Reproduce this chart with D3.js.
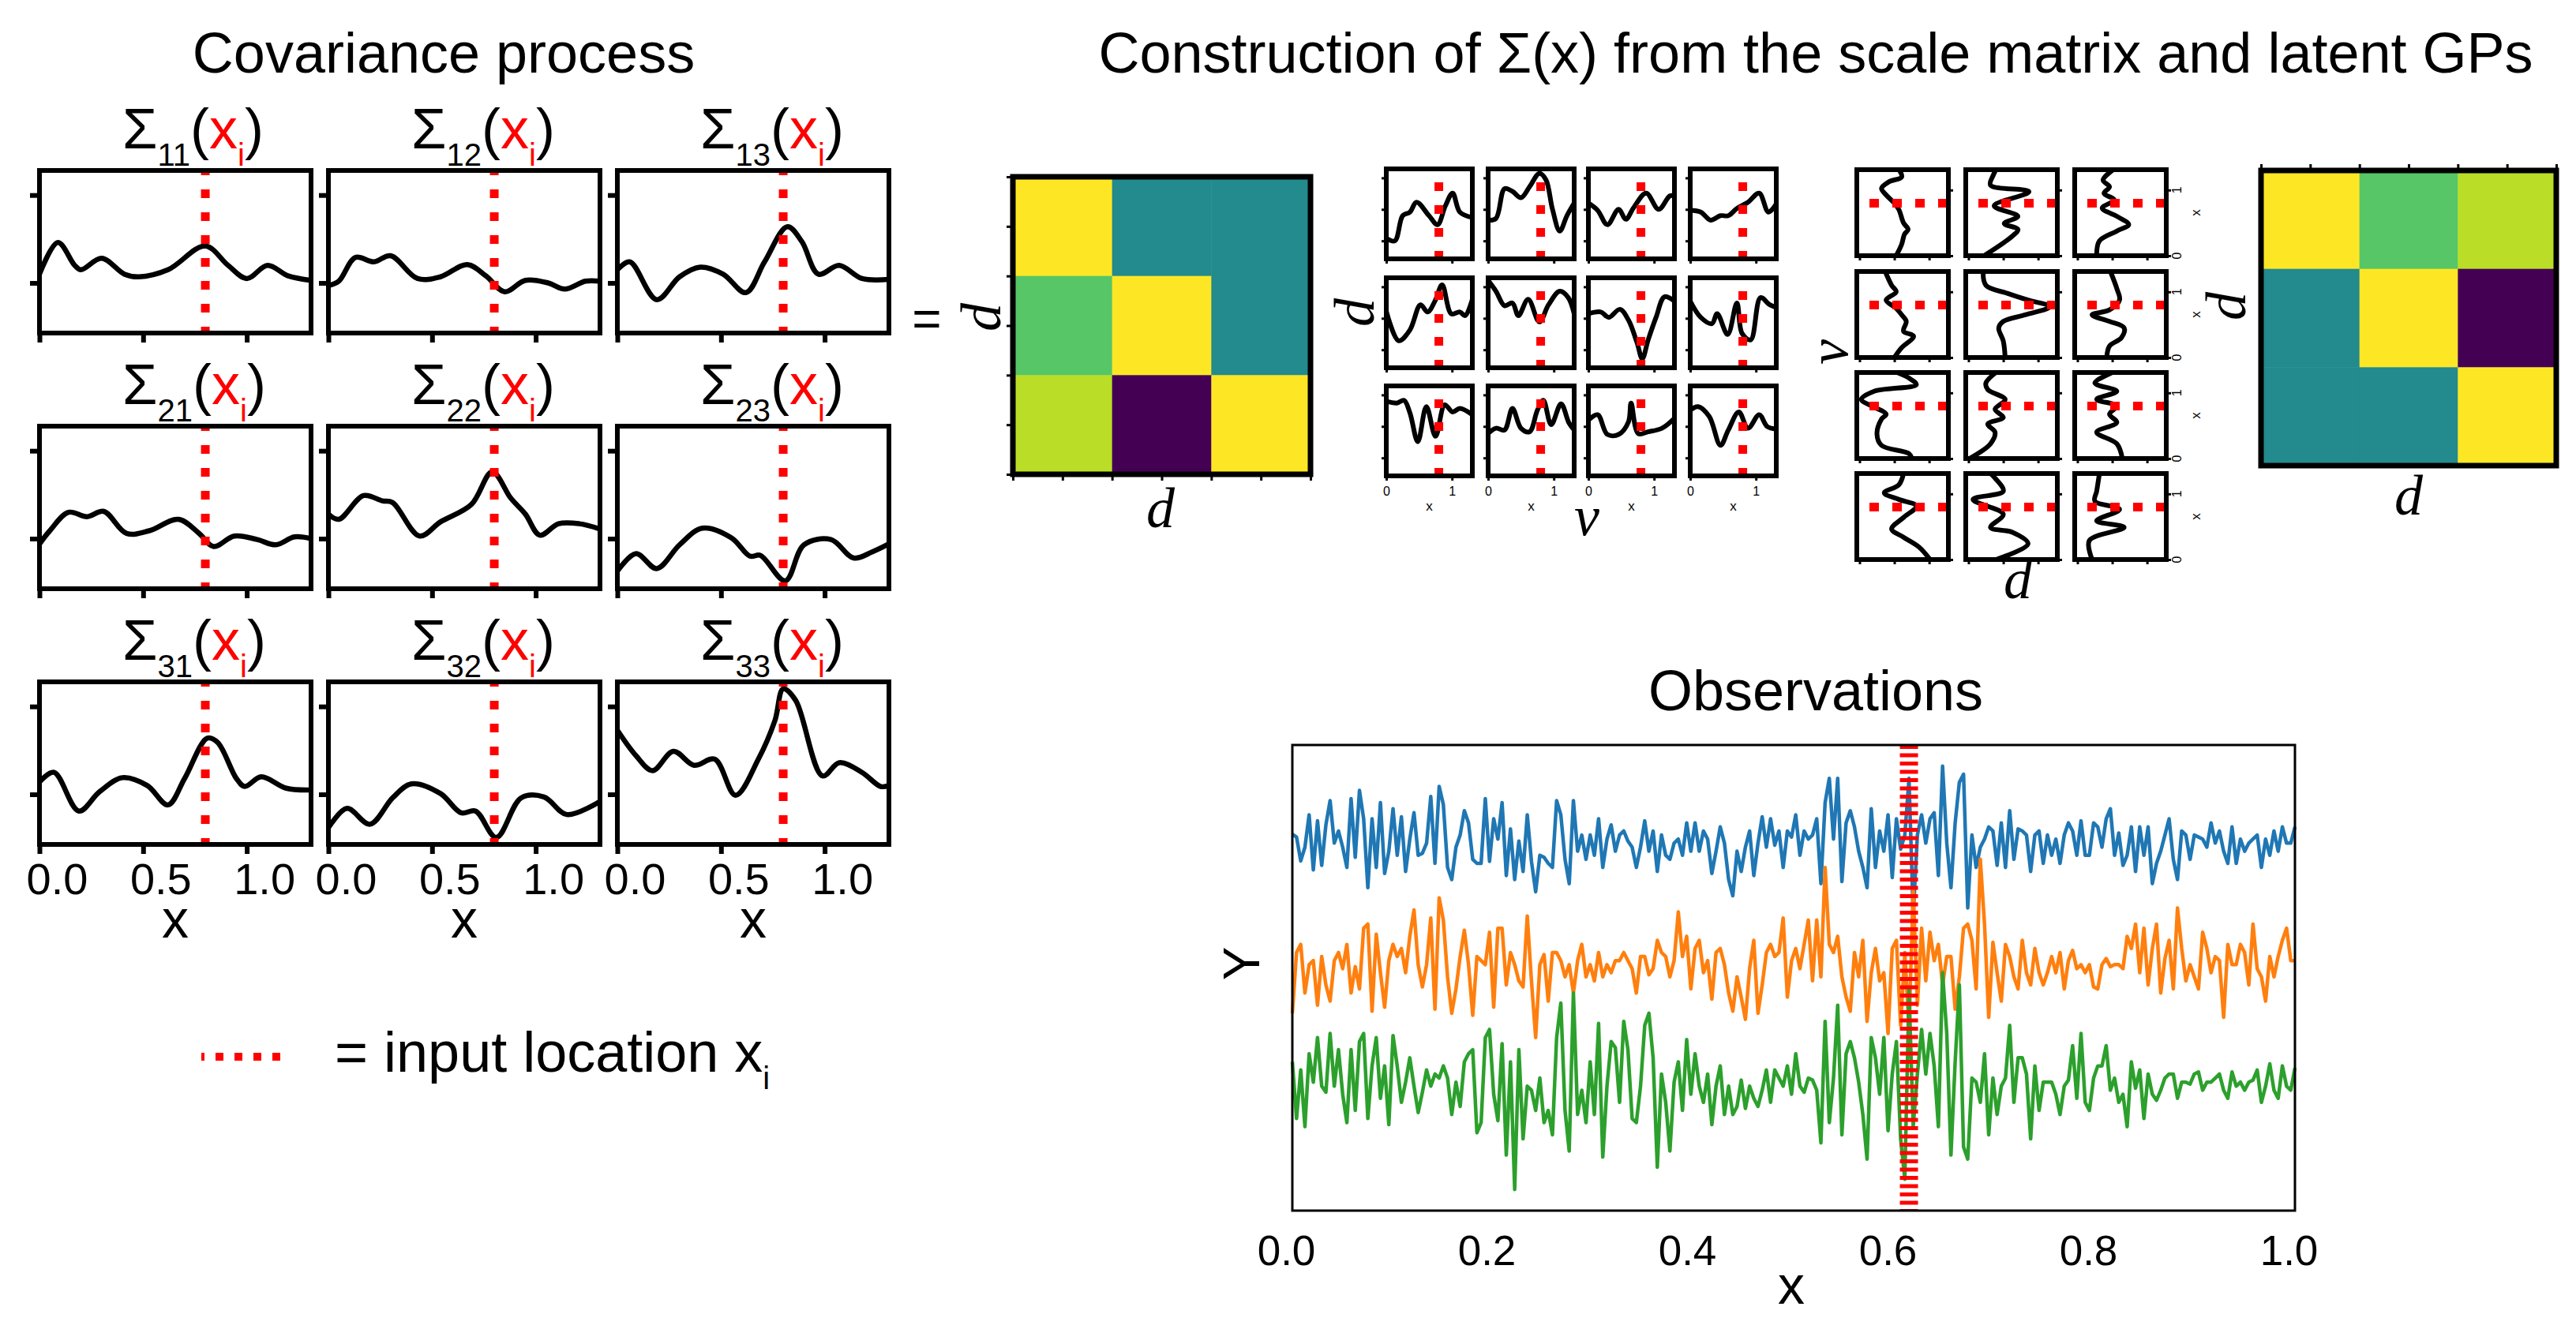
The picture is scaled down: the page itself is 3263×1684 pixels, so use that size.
<!DOCTYPE html>
<html>
<head>
<meta charset="utf-8">
<script src="https://cdn.jsdelivr.net/npm/d3@7"></script>
<style>
html,body{margin:0;padding:0;background:#fff;}
svg{display:block;}
</style>
</head>
<body>
<svg id="fig" width="3263" height="1684" xmlns="http://www.w3.org/2000/svg"></svg>
<script>
// ================= DATA =================
const sigmaIndices = [["11","12","13"],["21","22","23"],["31","32","33"]];
const sigmaXTicks = [0, 0.5, 1.0];
const sigmaXTickLabels = ["0.0", "0.5", "1.0"];
const sigmaYTicks = [0, 1];
const inputLocation = 0.8;
const obsInputLocation = 0.615;

// covariance process curves  [x, value]
const sig11 = [[0,.10],[.089,.46],[.17,.20],[.20,.15],[.30,.28],[.41,.10],[.48,.07],[.62,.15],[.80,.42],[.91,.20],[1.0,.05],[1.10,.20],[1.20,.08],[1.31,.03]];
const sig12 = [[0,-.03],[.05,.02],[.13,.29],[.22,.24],[.30,.31],[.43,.05],[.54,.07],[.67,.21],[.76,.08],[.85,-.10],[.95,.03],[1.06,0],[1.14,-.07],[1.24,.02],[1.31,.02]];
const sig13 = [[0,.15],[.06,.24],[.19,-.19],[.30,.07],[.40,.18],[.51,.10],[.62,-.11],[.71,.24],[.82,.64],[.89,.47],[.97,.10],[1.07,.20],[1.18,.05],[1.31,.04]];
const sig21 = [[0,-.06],[.05,.09],[.14,.30],[.23,.25],[.31,.31],[.42,.06],[.53,.09],[.67,.22],[.77,.06],[.84,-.09],[.94,.03],[1.05,-.01],[1.14,-.07],[1.23,.02],[1.31,0]];
const sig22 = [[0,.28],[.05,.22],[.17,.49],[.26,.43],[.31,.41],[.44,.03],[.54,.19],[.69,.39],[.79,.76],[.88,.46],[.95,.28],[1.02,.04],[1.11,.17],[1.21,.17],[1.31,.11]];
const sig23 = [[0,-.37],[.09,-.17],[.19,-.34],[.30,-.07],[.41,.12],[.55,.01],[.64,-.20],[.69,-.19],[.81,-.48],[.90,-.07],[1.03,-.01],[1.14,-.22],[1.23,-.15],[1.31,-.06]];
const sig31 = [[0,.14],[.07,.25],[.19,-.19],[.29,.03],[.40,.19],[.52,.10],[.62,-.12],[.70,.18],[.81,.64],[.86,.59],[.95,.18],[.99,.09],[1.07,.20],[1.19,.07],[1.31,.05]];
const sig32 = [[0,-.38],[.09,-.16],[.20,-.34],[.31,-.04],[.40,.12],[.54,.01],[.64,-.21],[.71,-.19],[.81,-.49],[.93,-.04],[1.04,-.03],[1.15,-.23],[1.31,-.08]];
const sig33 = [[0,.73],[.09,.44],[.17,.27],[.27,.49],[.37,.33],[.47,.40],[.57,-.01],[.68,.40],[.76,.84],[.80,1.20],[.86,1.07],[.99,.21],[1.07,.36],[1.18,.25],[1.27,.09],[1.31,.10]];

// scale matrix (lower triangular)
const scaleMatrix = [[1.0, 0.0, 0.0],[0.5, 1.0, 0.0],[0.8, -0.9, 1.0]];

// latent GPs (d x v grid)  [x, value]
const lat11 = [[0,.23],[.13,.20],[.25,.48],[.36,.52],[.46,.63],[.65,.48],[.78,.38],[.90,.59],[1.01,.73],[1.12,.52],[1.31,.46]];
const lat12 = [[0,.43],[.12,.45],[.25,.78],[.37,.75],[.50,.68],[.63,.80],[.78,.95],[.88,.88],[.98,.55],[1.09,.31],[1.20,.48],[1.31,.62]];
const lat13 = [[0,.62],[.14,.54],[.29,.38],[.46,.55],[.57,.44],[.69,.57],[.88,.73],[1.07,.55],[1.24,.70],[1.31,.70]];
const lat14 = [[0,.54],[.16,.52],[.31,.43],[.46,.48],[.58,.48],[.71,.56],[.88,.63],[1.05,.73],[1.19,.52],[1.31,.61]];
const lat21 = [[0,.63],[.19,.30],[.36,.42],[.52,.70],[.63,.62],[.74,.74],[.85,.92],[.99,.60],[1.12,.62],[1.20,.58],[1.31,.76]];
const lat22 = [[0,.97],[.12,.85],[.25,.69],[.37,.72],[.46,.58],[.61,.76],[.78,.51],[.92,.70],[1.09,.85],[1.22,.78],[1.31,.60]];
const lat23 = [[0,.60],[.19,.62],[.31,.56],[.48,.65],[.61,.53],[.74,.28],[.82,.10],[.91,.31],[1.03,.56],[1.16,.79],[1.31,.74]];
const lat24 = [[0,.74],[.16,.56],[.33,.49],[.41,.60],[.57,.37],[.71,.72],[.79,.38],[.92,.31],[1.07,.78],[1.21,.70],[1.31,.67]];
const lat31 = [[0,.83],[.16,.81],[.27,.84],[.36,.70],[.48,.38],[.61,.77],[.75,.44],[.89,.79],[1.01,.71],[1.12,.75],[1.31,.68]];
const lat32 = [[0,.47],[.12,.53],[.25,.51],[.37,.75],[.50,.53],[.63,.49],[.75,.73],[.84,.84],[.96,.57],[1.11,.80],[1.23,.59],[1.31,.51]];
const lat33 = [[0,.62],[.14,.68],[.29,.46],[.46,.46],[.61,.60],[.65,.81],[.76,.47],[.91,.49],[1.12,.53],[1.31,.64]];
const lat34 = [[0,.73],[.12,.77],[.29,.66],[.46,.34],[.58,.51],[.74,.71],[.88,.53],[1.05,.68],[1.17,.55],[1.31,.52]];

// latent GPs, transposed / rotated (v x d grid)  [x, value]
const rot11 = [[0,.43],[.175,.49],[.325,.52],[.40,.56],[.50,.51],[.70,.46],[.80,.41],[.925,.32],[1.025,.27],[1.125,.35],[1.20,.49],[1.31,.46]];
const rot12 = [[0,.20],[.30,.51],[.40,.57],[.49,.42],[.60,.57],[.76,.31],[.975,.69],[1.075,.27],[1.225,.30],[1.31,.33]];
const rot13 = [[0,.24],[.225,.27],[.375,.46],[.475,.59],[.60,.46],[.725,.30],[.85,.43],[.95,.32],[1.05,.38],[1.15,.31],[1.31,.42]];
const rot21 = [[0,.41],[.15,.49],[.325,.62],[.40,.51],[.55,.54],[.65,.49],[.75,.43],[.875,.32],[1.0,.43],[1.1,.38],[1.31,.31]];
const rot22 = [[0,.43],[.25,.41],[.45,.36],[.55,.41],[.65,.65],[.775,.92],[.875,.68],[.975,.46],[1.10,.22],[1.31,.19]];
const rot23 = [[0,.35],[.175,.38],[.30,.51],[.45,.54],[.55,.38],[.65,.19],[.725,.38],[.875,.49],[1.05,.46],[1.31,.39]];
const rot31 = [[0,.60],[.075,.57],[.20,.27],[.375,.22],[.60,.27],[.675,.32],[.80,.16],[.90,.05],[1.025,.19],[1.125,.65],[1.225,.57],[1.31,.44]];
const rot32 = [[0,.04],[.225,.27],[.40,.32],[.525,.24],[.625,.41],[.75,.32],[.90,.43],[1.05,.24],[1.15,.22],[1.31,.33]];
const rot33 = [[0,.52],[.225,.46],[.40,.24],[.55,.46],[.675,.38],[.80,.46],[.90,.24],[1.025,.46],[1.15,.22],[1.31,.41]];
const rot41 = [[0,.80],[.19,.68],[.34,.51],[.465,.38],[.64,.51],[.815,.65],[.915,.46],[1.015,.30],[1.14,.46],[1.31,.51]];
const rot42 = [[0,.33],[.24,.68],[.415,.51],[.49,.27],[.69,.41],[.915,.08],[1.04,.41],[1.24,.32],[1.31,.27]];
const rot43 = [[0,.19],[.29,.16],[.49,.54],[.59,.24],[.765,.49],[.89,.22],[1.04,.24],[1.31,.27]];

// observations (values before vertical offset), evenly spaced on [0, 1]
const obsBlue = [
.22,.15,-.44,-.1,.7,-.66,.55,-.55,.45,1.05,0,.3,-.1,-.6,1.1,-.35,1.3,.6,-1.1,.6,
-.6,1.0,-.75,-.2,.85,-.3,.65,-.7,.1,.75,-.3,-.25,0,1.15,-.5,1.4,.95,-.6,-.9,-.1,
.2,.8,.5,-.4,-.5,-.5,1.1,-.45,.6,.1,1.0,-.8,.35,-.9,.05,-.7,.7,-.45,-1.2,-.3,
-.35,
-.5,-.6,1.05,.7,-.4,-1.0,1.05,-.2,.2,-.4,.2,-.3,.6,-.6,.1,.45,-.2,.2,.3,.05,
-.1,-.6,-.1,.55,-.2,.3,-.7,.2,-.3,-.4,0,.1,-.3,.5,-.2,.5,-.2,.3,.1,-.75,
-.2,.4,0,-.9,-1.3,-.2,-.7,-.1,.3,-.8,0,.65,-.1,.6,-.05,.3,-.6,.3,.15,.7,
-.3,.3,.1,.2,.6,-1.0,1.0,1.6,.1,1.6,-.95,.5,.8,.4,-.2,-.6,-1.1,.85,-.6,.3,
-.2,.7,-.85,.6,-.15,.2,1.6,-1.8,.2,.7,0,.6,.75,-.8,1.9,0,-1.1,.5,1.5,1.7,
-1.6,.2,-.6,-.1,.1,.4,.3,-.55,.5,-.6,.8,-.4,.35,.3,.2,-.7,.2,.3,-.5,.2,
-.3,.1,-.5,.2,.5,.3,-.3,.55,-.3,-.3,.5,.4,-.1,.6,.85,-.3,.25,-.55,-.3,.4,
-.7,.4,-.3,.4,-1.0,-.5,-.2,.2,.6,-.4,-.9,.3,.2,-.4,.2,.15,.1,-.1,.5,0,
.3,-.2,-.5,.4,-.5,.1,-.2,0,.1,.2,-.6,.1,-.3,.3,-.2,.4,0,0,.4
];
const obsOrange = [
-1.2,.3,.5,-.7,0,.1,-1.0,.2,-.5,-.9,.1,.3,-.1,.5,-.7,-.05,-.6,.9,1.0,-1.15,
.75,-.2,-1.05,.1,.5,.2,.4,-.2,.7,1.35,0,-.55,0,1.15,-1.1,1.65,1.1,-.3,-1.2,-.6,
.2,.85,0,-1.25,.2,.1,0,.8,-1.05,.9,.9,-.5,.3,0,-.4,-.55,1.2,-.4,-1.8,0,
.25,
-.9,.3,.3,.1,-.3,0,-.7,.1,.5,-.3,0,-.4,.3,-.3,0,-.2,.1,.1,.3,.1,
-.1,-.7,.2,.2,-.25,-.1,.6,.3,.2,-.3,.1,1.3,.2,.7,-.6,.4,.6,-.2,.1,-.85,
.3,.4,0,-.7,-1.15,-.3,-.8,-1.35,-.1,.6,-1.2,-.5,.3,.5,.2,.3,1.15,-.8,.1,.4,
-.1,.5,1.1,-.4,1.1,-.3,2.4,.5,.3,.7,-.3,-.8,-1.15,.3,-.3,.6,-1.4,-.2,.4,-.4,
-.2,-1.7,.4,.6,-1.5,.3,-1.6,1.85,-1.0,.9,-.4,.8,.1,.5,-.5,.2,.2,-1.1,-.3,.9,
1.0,.6,-.6,2.6,1.0,-1.3,.55,-.2,-.9,.5,.2,-.3,-.6,.6,-.2,-.5,.4,-.2,-.5,-.2,
.2,-.2,.3,-.6,.1,.35,-.1,0,-.2,0,-.55,-.6,0,.15,-.05,0,0,-.1,.7,.4,
1.0,-.2,.9,-.5,.4,1.0,-.7,.15,.6,-.6,1.4,.4,-.4,0,-.3,-.6,.8,.4,-.2,.2,
.1,-1.3,.5,0,0,.5,.3,-.5,1.0,-.1,-.3,-.9,.2,-.3,.2,.6,.9,.1,.1
];
const obsGreen = [
.6,-.8,.4,-1.0,.8,.1,1.2,0,-.15,1.3,0,.9,-.2,-.9,.9,-.6,1.1,1.3,-.8,.5,
1.2,-.3,.5,-.95,1.25,.5,-.4,.1,.7,0,-.65,-.15,.4,0,.3,.2,.5,.2,-.7,.1,
-.5,.6,.8,.9,-1.15,-.9,1.2,1.4,-.2,-.85,1.05,-1.7,.6,-2.55,.9,-1.3,0,-.1,-.6,.2,
-.9,
-.6,-1.2,1.2,2.05,-.6,-1.6,2.3,-.7,-.1,-.9,.6,-.7,1.55,-1.75,0,1.1,.95,-.4,1.6,.9,
-.8,-.9,0,1.5,1.8,.7,-2.0,.3,-.4,-1.6,.1,.6,-.6,1.15,-.2,.8,0,-.4,.3,-.95,
0,.5,-.7,0,-.7,-.5,.15,-.55,0,-.3,-.5,-.1,.4,-.4,.4,.2,0,.5,-.2,.8,
0,-.15,.2,.15,-.1,-1.4,1.6,-.9,.2,2.0,-1.2,.8,1.1,.7,.1,-.7,-1.8,1.2,.7,-.2,
1.2,-1.1,.3,1.1,-1.3,-2.3,2.4,-1.0,.3,1.4,.3,1.3,.5,-1.0,2.8,1.3,-1.7,.6,2.5,-1.5,
-1.8,.2,.1,-.4,.8,-1.2,.2,-.7,0,.2,1.5,-.4,.7,.7,.3,-1.3,.5,-.6,.1,.1,
.1,-.2,-.7,0,.15,1.0,-.3,1.3,-.4,-.6,.2,.5,.5,1.0,-.1,.2,-.4,-.2,-1.0,.6,
-.05,.4,-.8,.3,-.2,-.35,-.1,.2,.3,.3,-.3,.1,.1,.05,.3,.35,-.1,.1,.1,.2,
.3,-.1,-.3,.35,0,.1,-.1,.1,.15,.4,-.4,0,.55,-.1,-.3,.5,0,-.1,.45
];
const obsOffsets = [3, 0, -3];
const obsColors = ["#1f77b4", "#ff7f0e", "#2ca02c"];
const obsXTicks = [0, 0.2, 0.4, 0.6, 0.8, 1.0];
const obsXTickLabels = ["0.0", "0.2", "0.4", "0.6", "0.8", "1.0"];

// ================= DRAWING =================
const SANS = '"Liberation Sans", Arial, Helvetica, sans-serif';
const SERIF = '"Liberation Serif", "Times New Roman", Times, serif';
const RED = "#ff0000";
const svg = d3.select("#fig");
svg.append("rect").attr("width", 3263).attr("height", 1684).attr("fill", "#fff");

function label(x, y, s, size, opts = {}) {
  return svg.append("text")
    .attr("x", x).attr("y", y)
    .attr("font-family", opts.family || SANS)
    .attr("font-size", size)
    .attr("font-style", opts.italic ? "italic" : "normal")
    .attr("text-anchor", opts.anchor || "middle")
    .attr("fill", opts.fill || "#000")
    .text(s);
}
function rotLabel(x, y, s, size, opts = {}) {
  svg.append("text")
    .attr("transform", `translate(${x},${y}) rotate(-90)`)
    .attr("font-family", opts.family || SANS)
    .attr("font-size", size)
    .attr("font-style", opts.italic ? "italic" : "normal")
    .attr("text-anchor", "middle")
    .attr("fill", "#000")
    .text(s);
}
function styleAxis(g, sw) {
  g.select(".domain").remove();
  g.selectAll("line").attr("stroke", "#000").attr("stroke-width", sw);
}
const smooth = d3.curveCatmullRom.alpha(0.5);

// ---------- Covariance process grid ----------
label(562, 92, "Covariance process", 72);

const sigLefts = [50, 416, 782], sigTops = [216, 540, 864], sigW = 344, sigH = 206;
const sigmaCurves = [[sig11, sig12, sig13], [sig21, sig22, sig23], [sig31, sig32, sig33]];
sigmaCurves.forEach((row, r) => row.forEach((data, c) => {
  const L = sigLefts[c], T = sigTops[r];
  const x = d3.scaleLinear().domain([0, 1.31]).range([L, L + sigW]);
  const y = d3.scaleLinear().domain([-0.57, 1.28]).range([T + sigH, T]);
  const g = svg.append("g");
  const gx = g.append("g").attr("transform", `translate(0,${T + sigH})`)
    .call(d3.axisBottom(x).tickValues(sigmaXTicks).tickSize(12)
      .tickFormat((d, i) => r === 2 ? sigmaXTickLabels[i] : ""));
  styleAxis(gx, 6);
  gx.selectAll("text").attr("font-family", SANS).attr("font-size", 56).attr("fill", "#000")
    .attr("dx", 22).attr("y", 63).attr("dy", "0");
  const gy = g.append("g").attr("transform", `translate(${L},0)`)
    .call(d3.axisLeft(y).tickValues(sigmaYTicks).tickSize(12).tickFormat(""));
  styleAxis(gy, 6);
  g.append("path").datum(data)
    .attr("d", d3.line().x(d => x(d[0])).y(d => y(d[1])).curve(smooth))
    .attr("fill", "none").attr("stroke", "#000").attr("stroke-width", 6.5)
    .attr("stroke-linejoin", "round");
  g.append("line").attr("x1", x(inputLocation)).attr("x2", x(inputLocation))
    .attr("y1", T).attr("y2", T + sigH)
    .attr("stroke", RED).attr("stroke-width", 11)
    .attr("stroke-dasharray", "11,18").attr("stroke-dashoffset", 5);
  g.append("rect").attr("x", L).attr("y", T).attr("width", sigW).attr("height", sigH)
    .attr("fill", "none").attr("stroke", "#000").attr("stroke-width", 6);
  // title  Σ_rc(x_i)
  const t = svg.append("text").attr("x", L + 105).attr("y", T - 28)
    .attr("font-family", SANS).attr("font-size", 72).attr("fill", "#000");
  t.append("tspan").text("Σ");
  t.append("tspan").attr("font-size", 40).attr("dy", 22).text(sigmaIndices[r][c]);
  t.append("tspan").attr("dy", -22).text("(");
  t.append("tspan").attr("fill", RED).text("x");
  t.append("tspan").attr("fill", RED).attr("font-size", 40).attr("dy", 22).text("i");
  t.append("tspan").attr("dy", -22).text(")");
  if (r === 2) label(L + sigW / 2, 1188, "x", 68);
}));

// legend
svg.append("line").attr("x1", 255).attr("x2", 356).attr("y1", 1339).attr("y2", 1339)
  .attr("stroke", RED).attr("stroke-width", 10)
  .attr("stroke-dasharray", "10,14").attr("stroke-dashoffset", 6);
{
  const t = svg.append("text").attr("x", 424).attr("y", 1358)
    .attr("font-family", SANS).attr("font-size", 72).attr("fill", "#000");
  t.append("tspan").text("= input location x");
  t.append("tspan").attr("font-size", 40).attr("dy", 22).text("i");
}

// ---------- Construction panel ----------
label(2300, 92, "Construction of Σ(x) from the scale matrix and latent GPs", 72);
label(1174, 426, "=", 64);

const viridis = d3.scaleSequential(d3.interpolateViridis).domain([-0.9, 1.0]);
function heatmap(M, L, T, size, sides) {
  const n = M.length;
  const band = d3.scaleBand().domain(d3.range(n)).range([0, size]);
  const g = svg.append("g");
  M.forEach((row, i) => row.forEach((v, j) => {
    g.append("rect").attr("x", L + band(j)).attr("y", T + band(i))
      .attr("width", band.bandwidth() + 0.5).attr("height", band.bandwidth() + 0.5)
      .attr("fill", viridis(v));
  }));
  const lin = d3.scaleLinear().domain([-0.5, n - 0.5]);
  const tv = d3.range(-0.5, n, 0.5);
  if (sides.includes("left")) {
    const a = g.append("g").attr("transform", `translate(${L},0)`)
      .call(d3.axisLeft(lin.copy().range([T, T + size])).tickValues(tv).tickSize(8).tickFormat(""));
    styleAxis(a, 3);
  }
  if (sides.includes("bottom")) {
    const a = g.append("g").attr("transform", `translate(0,${T + size})`)
      .call(d3.axisBottom(lin.copy().range([L, L + size])).tickValues(tv).tickSize(8).tickFormat(""));
    styleAxis(a, 3);
  }
  if (sides.includes("top")) {
    const a = g.append("g").attr("transform", `translate(0,${T})`)
      .call(d3.axisTop(lin.copy().range([L, L + size])).tickValues(tv).tickSize(8).tickFormat(""));
    styleAxis(a, 3);
  }
  g.append("rect").attr("x", L).attr("y", T).attr("width", size).attr("height", size)
    .attr("fill", "none").attr("stroke", "#000").attr("stroke-width", 7);
}
heatmap(scaleMatrix, 1283, 224, 377, ["left", "bottom"]);
rotLabel(1267, 402, "d", 72, { family: SERIF, italic: true });
label(1470, 668, "d", 72, { family: SERIF, italic: true });

// latent grid (d rows x v cols)
const latLefts = [1756, 1885, 2012, 2141], latTops = [214, 352, 489], latW = 109, latH = 114;
const latCurves = [[lat11, lat12, lat13, lat14], [lat21, lat22, lat23, lat24], [lat31, lat32, lat33, lat34]];
latCurves.forEach((row, r) => row.forEach((data, c) => {
  const L = latLefts[c], T = latTops[r];
  const x = d3.scaleLinear().domain([0, 1.31]).range([L, L + latW]);
  const y = d3.scaleLinear().domain([0, 1]).range([T + latH, T]);
  const g = svg.append("g");
  const gx = g.append("g").attr("transform", `translate(0,${T + latH})`)
    .call(d3.axisBottom(x).tickValues([0, 1]).tickSize(6).tickFormat(d => r === 2 ? d3.format("d")(d) : ""));
  styleAxis(gx, 3);
  gx.selectAll("text").attr("font-family", SANS).attr("font-size", 16).attr("fill", "#000")
    .attr("y", 25).attr("dy", "0");
  const gy = g.append("g").attr("transform", `translate(${L},0)`)
    .call(d3.axisLeft(y).tickValues([0.2, 0.55, 0.9]).tickSize(6).tickFormat(""));
  styleAxis(gy, 3);
  g.append("path").datum(data)
    .attr("d", d3.line().x(d => x(d[0])).y(d => y(d[1])).curve(smooth))
    .attr("fill", "none").attr("stroke", "#000").attr("stroke-width", 6)
    .attr("stroke-linejoin", "round");
  g.append("line").attr("x1", x(inputLocation)).attr("x2", x(inputLocation))
    .attr("y1", T).attr("y2", T + latH)
    .attr("stroke", RED).attr("stroke-width", 11)
    .attr("stroke-dasharray", "11,18").attr("stroke-dashoffset", 12);
  g.append("rect").attr("x", L).attr("y", T).attr("width", latW).attr("height", latH)
    .attr("fill", "none").attr("stroke", "#000").attr("stroke-width", 6);
  if (r === 2) label(L + latW / 2, 647, "x", 17);
}));
rotLabel(1740, 396, "d", 72, { family: SERIF, italic: true });
label(2010, 678, "v", 72, { family: SERIF, italic: true });

// rotated latent grid (v rows x d cols)
const rotLefts = [2352, 2490, 2628], rotTops = [215, 344, 472, 600], rotW = 116, rotH = 109;
const rotCurves = [[rot11, rot12, rot13], [rot21, rot22, rot23], [rot31, rot32, rot33], [rot41, rot42, rot43]];
rotCurves.forEach((row, r) => row.forEach((data, c) => {
  const L = rotLefts[c], T = rotTops[r];
  const t = d3.scaleLinear().domain([0, 1.31]).range([T + rotH, T]);
  const v = d3.scaleLinear().domain([0, 1]).range([L, L + rotW]);
  const g = svg.append("g");
  const gb = g.append("g").attr("transform", `translate(0,${T + rotH})`)
    .call(d3.axisBottom(v).tickValues([0.03, 0.41, 0.79]).tickSize(6).tickFormat(""));
  styleAxis(gb, 3);
  const gr = g.append("g").attr("transform", `translate(${L + rotW},0)`)
    .call(d3.axisRight(t).tickValues([0, 1]).tickSize(6).tickFormat(""));
  styleAxis(gr, 3);
  g.append("path").datum(data)
    .attr("d", d3.line().x(d => v(d[1])).y(d => t(d[0])).curve(smooth))
    .attr("fill", "none").attr("stroke", "#000").attr("stroke-width", 6)
    .attr("stroke-linejoin", "round");
  g.append("line").attr("x1", L).attr("x2", L + rotW)
    .attr("y1", t(inputLocation)).attr("y2", t(inputLocation))
    .attr("stroke", RED).attr("stroke-width", 11)
    .attr("stroke-dasharray", "12,17").attr("stroke-dashoffset", 13);
  g.append("rect").attr("x", L).attr("y", T).attr("width", rotW).attr("height", rotH)
    .attr("fill", "none").attr("stroke", "#000").attr("stroke-width", 6);
  if (c === 2) {
    [0, 1].forEach(k => rotLabel(L + rotW + 19, t(k), String(k), 16));
    rotLabel(L + rotW + 43, T + rotH / 2, "x", 17);
  }
}));
rotLabel(2340, 446, "v", 72, { family: SERIF, italic: true });
label(2556, 758, "d", 72, { family: SERIF, italic: true });

heatmap(d3.transpose(scaleMatrix), 2864, 216, 374, ["top"]);
rotLabel(2844, 388, "d", 72, { family: SERIF, italic: true });
label(3051, 652, "d", 72, { family: SERIF, italic: true });

// ---------- Observations ----------
label(2300, 900, "Observations", 72);
const obsL = 1637, obsR = 2907, obsT = 944, obsB = 1534;
const obsX = d3.scaleLinear().domain([0, 1]).range([obsL, obsR]);
const obsSeries = [obsBlue, obsOrange, obsGreen].map((s, k) =>
  s.map((v, i) => [i / (s.length - 1), v + obsOffsets[k]]));
const ext = d3.extent(obsSeries.flat(), d => d[1]);
const pad = (ext[1] - ext[0]) * 0.05;
const obsY = d3.scaleLinear().domain([ext[0] - pad, ext[1] + pad]).range([obsB, obsT]);
const og = svg.append("g");
obsSeries.forEach((s, k) => {
  og.append("path").datum(s)
    .attr("d", d3.line().x(d => obsX(d[0])).y(d => obsY(d[1])))
    .attr("fill", "none").attr("stroke", obsColors[k]).attr("stroke-width", 4.5)
    .attr("stroke-linejoin", "round");
});
og.append("line").attr("x1", obsX(obsInputLocation)).attr("x2", obsX(obsInputLocation))
  .attr("y1", obsT).attr("y2", obsB)
  .attr("stroke", RED).attr("stroke-width", 23).attr("stroke-dasharray", "5,5.5");
og.append("rect").attr("x", obsL).attr("y", obsT).attr("width", obsR - obsL).attr("height", obsB - obsT)
  .attr("fill", "none").attr("stroke", "#000").attr("stroke-width", 3);
const oax = og.append("g").attr("transform", `translate(0,${obsB})`)
  .call(d3.axisBottom(obsX).tickValues(obsXTicks).tickSize(0).tickFormat((d, i) => obsXTickLabels[i]));
oax.select(".domain").remove();
oax.selectAll("text").attr("font-family", SANS).attr("font-size", 53).attr("fill", "#000")
  .attr("dx", -8).attr("y", 69).attr("dy", "0");
label(2269, 1652, "x", 68);
rotLabel(1595, 1221, "Y", 64);
</script>
</body>
</html>
